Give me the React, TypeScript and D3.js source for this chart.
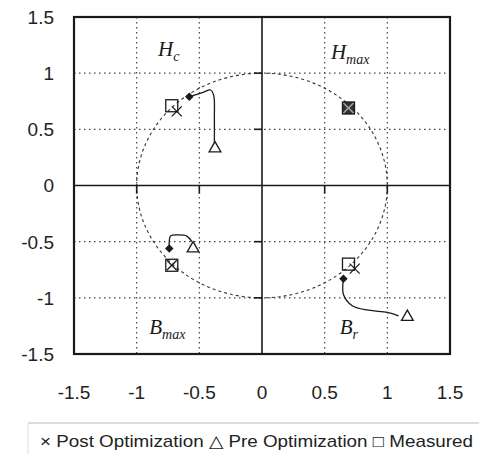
import React from "react";
import * as d3 from "d3";

const xTicks = [-1.5, -1, -0.5, 0, 0.5, 1, 1.5];
const yTicks = [-1.5, -1, -0.5, 0, 0.5, 1, 1.5];
const gridValues = [-1, -0.5, 0.5, 1];
const axisTickValues = [-1, -0.5, 0.5, 1];

// Quadrant labels
const quadLabels = [
  { main: "H", sub: "c", x: -0.83, y: 1.15 },
  { main: "H", sub: "max", x: 0.55, y: 1.13 },
  { main: "B", sub: "max", x: -0.9, y: -1.32 },
  { main: "B", sub: "r", x: 0.62, y: -1.32 },
];

// Measured (square)
const measured = [
  [-0.72, 0.71],
  [0.69, 0.69],
  [-0.72, -0.71],
  [0.69, -0.7],
];
// Post optimization (cross)
const postOpt = [
  [-0.68, 0.66],
  [0.69, 0.69],
  [-0.72, -0.71],
  [0.74, -0.74],
];
// Pre optimization (triangle)
const preOpt = [
  [-0.375, 0.33],
  [-0.55, -0.56],
  [1.16, -1.17],
];
// Trajectory end markers (filled)
const endPoints = [
  [-0.58, 0.79],
  [0.69, 0.69],
  [-0.74, -0.56],
  [0.65, -0.83],
];
// Trajectories
const pathHc = [
  [-0.38, 0.37],
  [-0.38, 0.6],
  [-0.385, 0.8],
  [-0.41, 0.85],
  [-0.47, 0.83],
  [-0.58, 0.79],
];
const pathBmax = [
  [-0.56, -0.5],
  [-0.6, -0.45],
  [-0.67, -0.44],
  [-0.73, -0.45],
  [-0.74, -0.5],
  [-0.74, -0.56],
];
const pathBr = [
  [0.65, -0.83],
  [0.65, -0.97],
  [0.72, -1.07],
  [0.85, -1.11],
  [1.0, -1.13],
  [1.09, -1.16],
];

const W = 481;
const H = 454;
const left = 74;
const right = 450;
const top = 17;
const bottom = 354;

export default function App() {
  const x = d3.scaleLinear().domain([-1.5, 1.5]).range([left, right]);
  const y = d3.scaleLinear().domain([-1.5, 1.5]).range([bottom, top]);
  const line = d3
    .line<number[]>()
    .x((d) => x(d[0]))
    .y((d) => y(d[1]))
    .curve(d3.curveCatmullRom.alpha(0.5));

  const circle = d3.range(0, 361, 2).map((a) => [Math.cos((a * Math.PI) / 180), Math.sin((a * Math.PI) / 180)]);
  const circleLine = d3
    .line<number[]>()
    .x((d) => x(d[0]))
    .y((d) => y(d[1]));

  const tri = d3.symbol().type(d3.symbolTriangle).size(60)();
  const ink = "#1a1a1a";

  return (
    <svg width={W} height={H} style={{ position: "absolute", left: 0, top: 0, background: "#fff" }}>
      <rect x={0} y={0} width={W} height={H} fill="#fff" />
      {/* grid */}
      {gridValues.map((v) => (
        <g key={"g" + v}>
          <line x1={x(v)} x2={x(v)} y1={top} y2={bottom} stroke="#444" strokeWidth={1.2} strokeDasharray="1.5,3.5" />
          <line x1={left} x2={right} y1={y(v)} y2={y(v)} stroke="#444" strokeWidth={1.2} strokeDasharray="1.5,3.5" />
        </g>
      ))}
      {/* unit circle */}
      <path d={circleLine(circle) || ""} fill="none" stroke="#333" strokeWidth={1.1} strokeDasharray="3,3" />
      {/* zero axes */}
      <line x1={x(0)} x2={x(0)} y1={top} y2={bottom} stroke={ink} strokeWidth={1.6} />
      <line x1={left} x2={right} y1={y(0)} y2={y(0)} stroke={ink} strokeWidth={1.6} />
      {axisTickValues.map((v) => (
        <g key={"t" + v}>
          <line x1={x(0) - 8} x2={x(0)} y1={y(v)} y2={y(v)} stroke={ink} strokeWidth={1.6} />
          <line x1={x(v)} x2={x(v)} y1={y(0)} y2={y(0) + 8} stroke={ink} strokeWidth={1.6} />
        </g>
      ))}
      {/* border */}
      <rect x={left} y={top} width={right - left} height={bottom - top} fill="none" stroke={ink} strokeWidth={2.2} />
      {/* trajectories */}
      {[pathHc, pathBmax, pathBr].map((p, i) => (
        <path key={"p" + i} d={line(p) || ""} fill="none" stroke={ink} strokeWidth={1.3} />
      ))}
      {/* H_max dark marker background */}
      <rect x={x(0.69) - 6} y={y(0.69) - 6} width={12} height={12} fill="#333" />
      {/* measured squares */}
      {measured.map((d, i) => (
        <rect key={"m" + i} x={x(d[0]) - 6} y={y(d[1]) - 6} width={12} height={12} fill="none" stroke={ink} strokeWidth={1.3} />
      ))}
      {/* post crosses */}
      {postOpt.map((d, i) => (
        <g key={"c" + i} transform={`translate(${x(d[0])},${y(d[1])})`} stroke={i === 1 ? "#aaa" : ink} strokeWidth={1.3}>
          <line x1={-5} y1={-5} x2={5} y2={5} />
          <line x1={-5} y1={5} x2={5} y2={-5} />
        </g>
      ))}
      {/* pre triangles */}
      {preOpt.map((d, i) => (
        <path key={"tr" + i} d={tri || ""} transform={`translate(${x(d[0])},${y(d[1])})`} fill="#fff" stroke={ink} strokeWidth={1.3} />
      ))}
      {/* end markers */}
      {endPoints.map((d, i) =>
        i === 1 ? null : (
          <rect key={"e" + i} x={x(d[0]) - 3} y={y(d[1]) - 3} width={6} height={6} fill={ink} transform={`rotate(45 ${x(d[0])} ${y(d[1])})`} />
        )
      )}
      {/* quadrant labels */}
      {quadLabels.map((l, i) => (
        <text key={"q" + i} x={x(l.x)} y={y(l.y)} fontFamily="Liberation Serif, Times New Roman, serif" fontStyle="italic" fontSize={21} fill={ink}>
          {l.main}
          <tspan fontSize={14} dy={5}>{l.sub}</tspan>
        </text>
      ))}
      {/* y tick labels */}
      {yTicks.map((v) => (
        <text key={"yl" + v} x={54} y={y(v)} dy="0.36em" textAnchor="end" fontFamily="Liberation Sans, Arial, sans-serif" fontSize={19} fill="#222">
          {v === 0 ? "0" : String(v).replace("-", "-")}
        </text>
      ))}
      {/* x tick labels */}
      {xTicks.map((v) => (
        <text key={"xl" + v} x={x(v)} y={392} dy="0.36em" textAnchor="middle" fontFamily="Liberation Sans, Arial, sans-serif" fontSize={19} fill="#222">
          {String(v)}
        </text>
      ))}
      {/* legend */}
      <line x1={28} x2={479} y1={423} y2={423} stroke="#bbb" strokeWidth={1} />
      <line x1={28} x2={28} y1={423} y2={454} stroke="#ddd" strokeWidth={1} />
      <text x={40} y={447} fontFamily="Liberation Sans, Arial, sans-serif" fontSize={17} fill="#222" textLength={433} lengthAdjust="spacingAndGlyphs">
        × Post Optimization △ Pre Optimization □ Measured
      </text>
    </svg>
  );
}
